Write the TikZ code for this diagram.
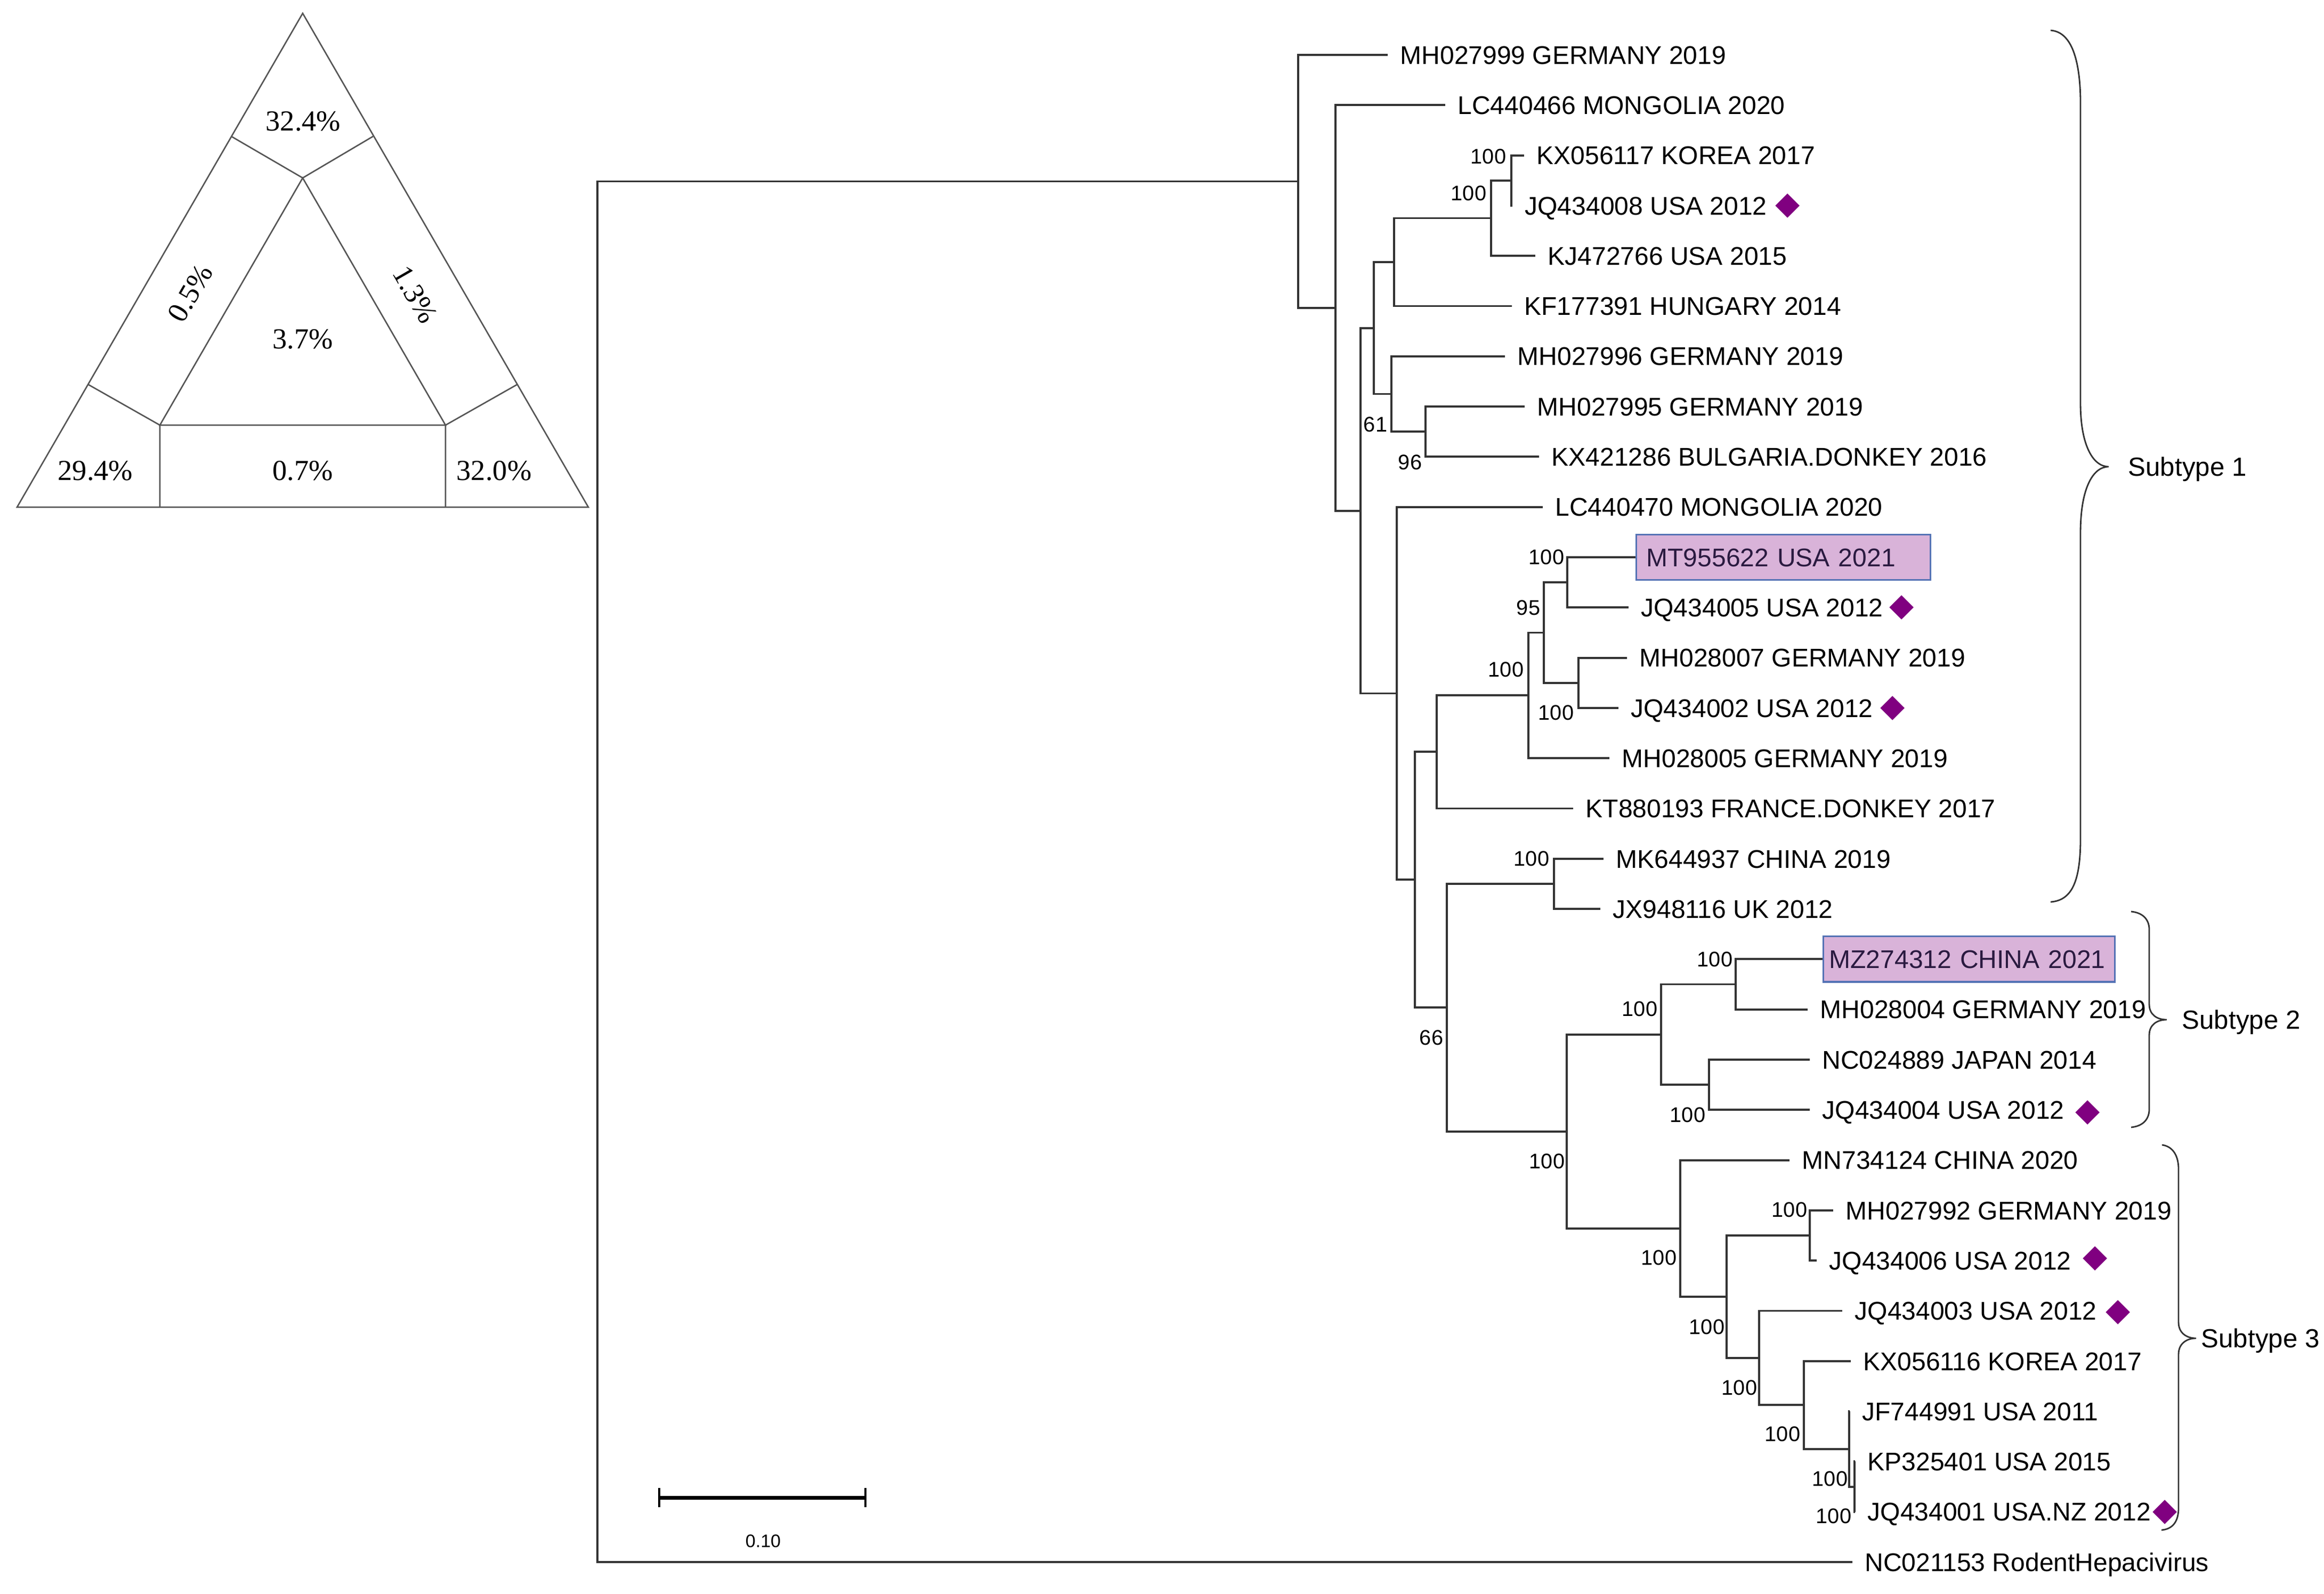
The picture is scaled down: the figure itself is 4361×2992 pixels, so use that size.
\documentclass[tikz,border=0pt]{standalone}
\usepackage{fontspec}
\setmainfont{Liberation Sans}
\newfontfamily\timesf{Liberation Serif}
\usetikzlibrary{shapes.geometric}
\definecolor{brc}{HTML}{333333}
\definecolor{tric}{HTML}{555555}
\definecolor{diamc}{HTML}{800080}
\definecolor{boxfill}{HTML}{D9B3D9}
\definecolor{boxdraw}{HTML}{5573B5}
\definecolor{boxtext}{HTML}{2A1A40}
\begin{document}
\begin{tikzpicture}[x=0.01cm,y=-0.01cm,
 br/.style={draw=brc,line width=1.1pt},
 leaf/.style={anchor=west,inner xsep=6.5pt,inner ysep=0pt,font=\fontsize{13.66}{16}\selectfont,text height=9.78pt,text depth=0pt,text=black},
 hibox/.style={anchor=west,draw=boxdraw,fill=boxfill,line width=0.9pt,inner ysep=0pt,minimum height=24.2pt,align=left,font=\fontsize{13.66}{16}\selectfont,text height=9.78pt,text depth=0pt,text=boxtext},
 bs/.style={inner sep=0pt,font=\fontsize{11.3}{13}\selectfont,text=black},
 diam/.style={diamond,fill=diamc,inner sep=0pt,minimum width=13.1pt,minimum height=13.1pt},
 tri/.style={draw=tric,line width=0.75pt},
 trilab/.style={font=\timesf\fontsize{15.5}{18}\selectfont,inner sep=0pt},
 brace/.style={draw=brc,line width=0.8pt},
 sub/.style={anchor=west,inner sep=0pt,font=\fontsize{14}{16}\selectfont,text height=10pt,text depth=0pt},
]
\useasboundingbox (0,0) rectangle (4361,2992);
\fill[white] (0,0) rectangle (4361,2992);

% ---------------- triangle ----------------
\coordinate (T1) at (568,25);
\coordinate (T2) at (32,952);
\coordinate (T3) at (1104,952);
\coordinate (I1) at (568,334);
\coordinate (I2) at (300,798);
\coordinate (I3) at (836,798);
\coordinate (E1) at (434,256);
\coordinate (E2) at (700,256);
\coordinate (E3) at (166,722);
\coordinate (E4) at (970,722);
\coordinate (E5) at (300,952);
\coordinate (E6) at (836,952);
\draw[tri] (T1) -- (T2) -- (T3) -- cycle;
\draw[tri] (I1) -- (I2) -- (I3) -- cycle;
\draw[tri] (E1) -- (I1) -- (E2);
\draw[tri] (E3) -- (I2) -- (E5);
\draw[tri] (E4) -- (I3) -- (E6);
\node[trilab] (p1) at (569,228) {32.4\%};
\node[trilab] (p2) at (568,637) {3.7\%};
\node[trilab] (p3) at (179,884) {29.4\%};
\node[trilab] (p4) at (568,884) {0.7\%};
\node[trilab] (p5) at (927,884) {32.0\%};
\node[trilab,rotate=60] (p6) at (357,550) {0.5\%};
\node[trilab,rotate=-60] (p7) at (779,553) {1.3\%};

% ---------------- internal nodes ----------------
\coordinate (nroot) at (1121,1636);
\coordinate (n1) at (2436,340.5);
\coordinate (nA) at (2506,577.95);
\coordinate (nB) at (2553,958.6);
\coordinate (nC) at (2578,615.75);
\coordinate (nD) at (2616,492);
\coordinate (nE) at (2798,409.5);
\coordinate (nF) at (2836,338.75);
\coordinate (nG) at (2611,739.5);
\coordinate (nH) at (2675,810.25);
\coordinate (nI) at (2621,1301.5);
\coordinate (nO) at (2655,1651.4);
\coordinate (nN) at (2696,1411.4);
\coordinate (nM) at (2868,1305.3);
\coordinate (nK) at (2897,1187.45);
\coordinate (nJ) at (2941,1093.15);
\coordinate (nL) at (2962,1281.75);
\coordinate (nP) at (2715,1891.4);
\coordinate (nQ) at (2916,1658.95);
\coordinate (nR) at (2940,2123.8);
\coordinate (nS) at (3117,1941.85);
\coordinate (nT) at (3257,1847.55);
\coordinate (nU) at (3207,2036.15);
\coordinate (nV) at (3153,2305.8);
\coordinate (nW) at (3240,2434);
\coordinate (nX) at (3396,2319.05);
\coordinate (nY) at (3301,2548.9);
\coordinate (nZ) at (3385,2637.3);
\coordinate (nAA) at (3470,2719.8);
\coordinate (nAB) at (3480,2790.55);

% ---------------- leaves ----------------
\node[leaf] (l0) at (2604,103.0) {MH027999 GERMANY 2019};
\node[leaf] (l1) at (2712,197.3) {LC440466 MONGOLIA 2020};
\node[leaf] (l2) at (2860,291.6) {KX056117 KOREA 2017};
\node[leaf] (l3) at (2838,385.9) {JQ434008 USA 2012};
\node[leaf] (l4) at (2881,480.2) {KJ472766 USA 2015};
\node[leaf] (l5) at (2837,574.5) {KF177391 HUNGARY 2014};
\node[leaf] (l6) at (2824,668.8) {MH027996 GERMANY 2019};
\node[leaf] (l7) at (2861,763.1) {MH027995 GERMANY 2019};
\node[leaf] (l8) at (2888,857.4) {KX421286 BULGARIA.DONKEY 2016};
\node[leaf] (l9) at (2895,951.7) {LC440470 MONGOLIA 2020};
\node[hibox,inner xsep=5.4pt,text width=146.2pt] (l10) at (3069,1046.0) {MT955622 USA 2021};
\node[leaf] (l11) at (3056,1140.3) {JQ434005 USA 2012};
\node[leaf] (l12) at (3053,1234.6) {MH028007 GERMANY 2019};
\node[leaf] (l13) at (3037,1328.9) {JQ434002 USA 2012};
\node[leaf] (l14) at (3020,1423.2) {MH028005 GERMANY 2019};
\node[leaf] (l15) at (2952,1517.5) {KT880193 FRANCE.DONKEY 2017};
\node[leaf] (l16) at (3009,1611.8) {MK644937 CHINA 2019};
\node[leaf] (l17) at (3003,1706.1) {JX948116 UK 2012};
\node[hibox,inner xsep=3.1pt,text width=149.4pt] (l18) at (3420,1800.4) {MZ274312 CHINA 2021};
\node[leaf] (l19) at (3392,1894.7) {MH028004 GERMANY 2019};
\node[leaf] (l20) at (3396,1989.0) {NC024889 JAPAN 2014};
\node[leaf] (l21) at (3396,2083.3) {JQ434004 USA 2012};
\node[leaf] (l22) at (3358,2177.6) {MN734124 CHINA 2020};
\node[leaf] (l23) at (3440,2271.9) {MH027992 GERMANY 2019};
\node[leaf] (l24) at (3409,2366.2) {JQ434006 USA 2012};
\node[leaf] (l25) at (3457,2460.5) {JQ434003 USA 2012};
\node[leaf] (l26) at (3473,2554.8) {KX056116 KOREA 2017};
\node[leaf] (l27) at (3471,2649.1) {JF744991 USA 2011};
\node[leaf] (l28) at (3481,2743.4) {KP325401 USA 2015};
\node[leaf] (l29) at (3481,2837.7) {JQ434001 USA.NZ 2012};
\node[leaf] (l30) at (3476,2932.0) {NC021153 RodentHepacivirus};

% ---------------- branches ----------------
\draw[br] (nroot) |- (n1);   \draw[br] (nroot) |- (l30.west);
\draw[br] (n1) |- (l0.west); \draw[br] (n1) |- (nA);
\draw[br] (nA) |- (l1.west); \draw[br] (nA) |- (nB);
\draw[br] (nB) |- (nC);      \draw[br] (nB) |- (nI);
\draw[br] (nC) |- (nD);      \draw[br] (nC) |- (nG);
\draw[br] (nD) |- (nE);      \draw[br] (nD) |- (l5.west);
\draw[br] (nE) |- (nF);      \draw[br] (nE) |- (l4.west);
\draw[br] (nF) |- (l2.west); \draw[br] (nF) |- (l3.west);
\draw[br] (nG) |- (l6.west); \draw[br] (nG) |- (nH);
\draw[br] (nH) |- (l7.west); \draw[br] (nH) |- (l8.west);
\draw[br] (nI) |- (l9.west); \draw[br] (nI) |- (nO);
\draw[br] (nO) |- (nN);      \draw[br] (nO) |- (nP);
\draw[br] (nN) |- (nM);      \draw[br] (nN) |- (l15.west);
\draw[br] (nM) |- (nK);      \draw[br] (nM) |- (l14.west);
\draw[br] (nK) |- (nJ);      \draw[br] (nK) |- (nL);
\draw[br] (nJ) |- (l10.west); \draw[br] (nJ) |- (l11.west);
\draw[br] (nL) |- (l12.west); \draw[br] (nL) |- (l13.west);
\draw[br] (nP) |- (nQ);      \draw[br] (nP) |- (nR);
\draw[br] (nQ) |- (l16.west); \draw[br] (nQ) |- (l17.west);
\draw[br] (nR) |- (nS);      \draw[br] (nR) |- (nV);
\draw[br] (nS) |- (nT);      \draw[br] (nS) |- (nU);
\draw[br] (nT) |- (l18.west); \draw[br] (nT) |- (l19.west);
\draw[br] (nU) |- (l20.west); \draw[br] (nU) |- (l21.west);
\draw[br] (nV) |- (l22.west); \draw[br] (nV) |- (nW);
\draw[br] (nW) |- (nX);      \draw[br] (nW) |- (nY);
\draw[br] (nX) |- (l23.west); \draw[br] (nX) |- (l24.west);
\draw[br] (nY) |- (l25.west); \draw[br] (nY) |- (nZ);
\draw[br] (nZ) |- (l26.west); \draw[br] (nZ) |- (nAA);
\draw[br] (nAA) |- (l27.west); \draw[br] (nAA) |- (nAB);
\draw[br] (nAB) |- (l28.west); \draw[br] (nAB) |- (l29.west);

% ---------------- bootstrap values ----------------
\node[bs] (bF) at (2793,294) {100};
\node[bs] (bE) at (2756,363) {100};
\node[bs] (bG) at (2581,797) {61};
\node[bs] (bH) at (2646,868) {96};
\node[bs] (bJ) at (2902,1046) {100};
\node[bs] (bK) at (2868,1141) {95};
\node[bs] (bM) at (2826,1257) {100};
\node[bs] (bL) at (2920,1338) {100};
\node[bs] (bQ) at (2874,1612) {100};
\node[bs] (bP) at (2686,1948) {66};
\node[bs] (bT) at (3218,1801) {100};
\node[bs] (bS) at (3077,1894) {100};
\node[bs] (bU) at (3167,2093) {100};
\node[bs] (bR) at (2903,2180) {100};
\node[bs] (bX) at (3358,2271) {100};
\node[bs] (bV) at (3113,2361) {100};
\node[bs] (bW) at (3203,2491) {100};
\node[bs] (bY) at (3264,2605) {100};
\node[bs] (bZ) at (3345,2692) {100};
\node[bs] (bAA) at (3434,2776) {100};
\node[bs] (bAB) at (3441,2846) {100};

% ---------------- diamonds ----------------
\node[diam] (d3) at (3354,386) {};
\node[diam] (d11) at (3568,1140) {};
\node[diam] (d13) at (3551,1329) {};
\node[diam] (d21) at (3917,2088) {};
\node[diam] (d24) at (3931,2362) {};
\node[diam] (d25) at (3974,2463) {};
\node[diam] (d29) at (4062,2838) {};

% ---------------- braces ----------------
\draw[brace] (3848,57) .. controls (3890,60) and (3904,120) .. (3904,195)
  -- (3904,758) .. controls (3904,830) and (3925,876) .. (3957,876)
  .. controls (3925,876) and (3904,922) .. (3904,999)
  -- (3904,1573) .. controls (3904,1650) and (3890,1690) .. (3848,1693);
\node[sub] (s1) at (3993,876) {Subtype 1};

\draw[brace] (3999,1711) .. controls (4020,1713) and (4033,1725) .. (4033,1745)
  -- (4033,1885) .. controls (4033,1905) and (4048,1914) .. (4066,1914)
  .. controls (4048,1914) and (4033,1923) .. (4033,1943)
  -- (4033,2082) .. controls (4033,2102) and (4020,2114) .. (3999,2116);
\node[sub] (s2) at (4094,1914) {Subtype 2};

\draw[brace] (4057,2149) .. controls (4078,2152) and (4088,2170) .. (4088,2195)
  -- (4088,2482) .. controls (4088,2502) and (4103,2512) .. (4121,2512)
  .. controls (4103,2512) and (4088,2522) .. (4088,2542)
  -- (4088,2830) .. controls (4088,2855) and (4078,2870) .. (4056,2872);
\node[sub] (s3) at (4130,2512) {Subtype 3};

% ---------------- scale bar ----------------
\coordinate (sbL) at (1237,2811);
\coordinate (sbR) at (1624,2811);
\draw[line width=2pt] (sbL) -- (sbR);
\draw[line width=1.4pt] ([yshift=5pt]sbL) -- ([yshift=-5pt]sbL);
\draw[line width=1.4pt] ([yshift=5pt]sbR) -- ([yshift=-5pt]sbR);
\node[inner sep=0pt,font=\fontsize{9.7}{11}\selectfont] (sblab) at (1432,2893) {0.10};
\end{tikzpicture}
\end{document}
